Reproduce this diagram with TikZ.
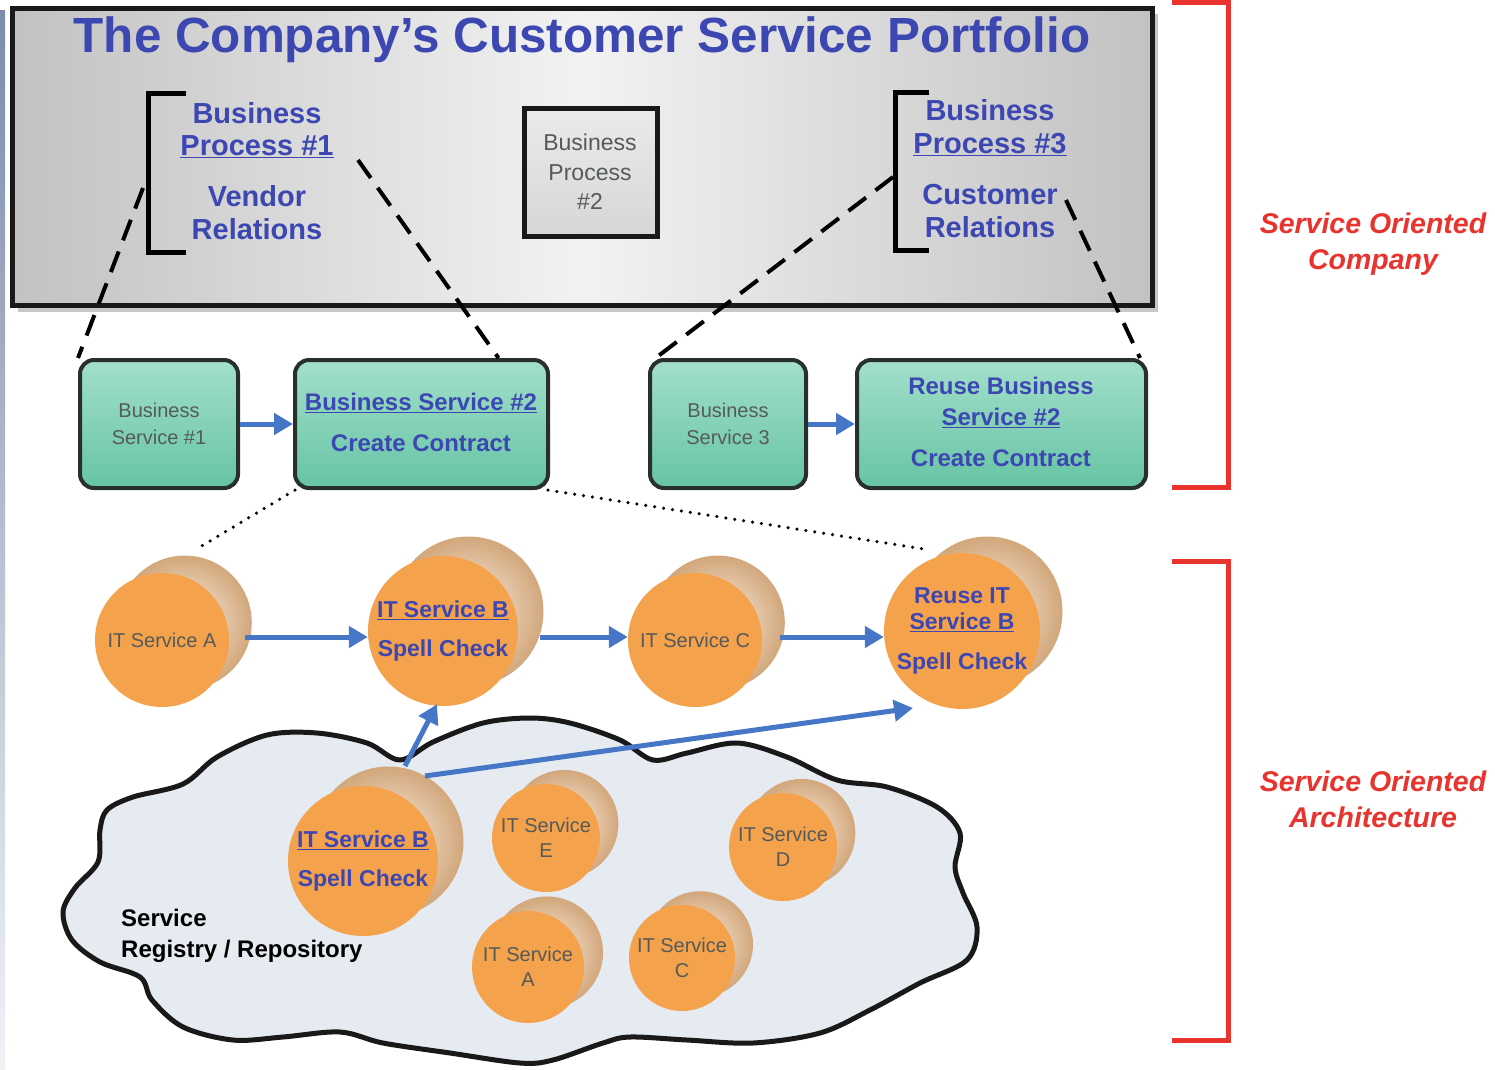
\documentclass[tikz,border=0pt]{standalone}
\usepackage{fontspec}
\setmainfont{Liberation Sans}
\usetikzlibrary{arrows.meta}
\definecolor{txtblue}{HTML}{3D47B2}
\definecolor{arrblue}{HTML}{4677C6}
\definecolor{sored}{HTML}{E8332E}
\definecolor{grytxt}{HTML}{555A5A}
\definecolor{grnlight}{HTML}{A3DFCA}
\definecolor{grndark}{HTML}{66C4A5}
\definecolor{boxedge}{HTML}{28302E}
\definecolor{orng}{HTML}{F5A24C}
\definecolor{cylin}{HTML}{FBF1E6}
\definecolor{cylout}{HTML}{D2A77B}
\definecolor{cloudfill}{HTML}{E6EAF1}
\definecolor{striptop}{HTML}{7D8CAB}
\definecolor{stripbot}{HTML}{F0F2F6}
\newcommand{\uln}[1]{\underline{#1}}
\newcommand{\fsz}[2]{\fontsize{#1}{#2}\selectfont}
\newcommand{\itcyl}[6]{%
  \shade[inner color=cylin, outer color=cylout] (#2+0.34*#4,#3-0.26*#4) circle[radius=#4pt];
  \node[itfront, minimum size={2*#4pt}, #5] (#1) at (#2,#3) {#6};}
\begin{document}
\begin{tikzpicture}[x=1pt,y=-1pt,
  blueb/.style={text=txtblue, font=\bfseries\fsz{29}{33}, align=center, inner sep=0pt},
  greentxt/.style={text=txtblue, font=\bfseries\fsz{24}{31}, align=center, inner sep=0pt},
  graysmall/.style={text=grytxt, font=\fsz{20}{27}, align=center, inner sep=0pt},
  gbox/.style={draw=boxedge, line width=4pt, rounded corners=14pt, top color=grnlight, bottom color=grndark},
  dashconn/.style={draw=black, line width=4pt, dash pattern=on 22pt off 12pt},
  dotconn/.style={draw=black, line width=3.5pt, line cap=round, dash pattern=on 0pt off 9pt},
  barrow/.style={draw=arrblue, line width=5pt, -{Triangle[length=19pt,width=21pt]}},
  itfront/.style={circle, fill=orng, inner sep=0pt, align=center},
  itplain/.style={text=grytxt, font=\fsz{20}{25}},
  itbold/.style={text=txtblue, font=\bfseries\fsz{23}{30}},
  redlbl/.style={text=sored, font=\bfseries\itshape\fsz{28.5}{36}, align=center},
  redbr/.style={draw=sored, line width=5pt}
]
\useasboundingbox (0,0) rectangle (1495,1069);
% left slide strip
\shade[top color=striptop, bottom color=stripbot] (0,10) rectangle (5,1069);
% portfolio box
\fill[black!22] (18,14) rectangle (1158,312);
\path[draw=black!90, line width=5pt, left color=black!24, right color=black!24, middle color=black!5] (12,8) rectangle (1152,305);
\node[text=txtblue, font=\bfseries\fsz{49.4}{52}, inner sep=0pt] (title) at (582,40) {The Company’s Customer Service Portfolio};
% left bracket
\draw[line width=5pt] (186,93) -- (148,93) -- (148,252) -- (186,252);
\node[blueb] (bp1) at (257,130) {Business\\[-1pt]\uln{Process \#1}};
\node[blueb] (vr) at (257,213) {Vendor\\[0pt]Relations};
% business process 2
\path[draw=black!90, line width=5pt, top color=black!8, bottom color=black!16] (524,108) rectangle (657,236);
\node[text=grytxt, font=\fsz{23}{29.5}, align=center, inner sep=0pt] (bp2) at (590,172) {Business\\Process\\\#2};
% right bracket
\draw[line width=5pt] (929,92) -- (895,92) -- (895,250) -- (929,250);
\node[blueb] (bp3) at (990,128) {Business\\[0pt]\uln{Process \#3}};
\node[blueb] (cr) at (990,211) {Customer\\[0pt]Relations};
% business services
\node[gbox, minimum width=158pt, minimum height=128pt] (bs1) at (159,424) {};
\node[graysmall] (bs1t) at (bs1.center) {Business\\Service \#1};
\node[gbox, minimum width=253pt, minimum height=128pt] (bs2) at (421.5,424) {};
\node[greentxt] (bs2t) at (421,422) {\uln{Business Service \#2}\\[10pt]Create Contract};
\node[gbox, minimum width=156pt, minimum height=128pt] (bs3) at (728,424) {};
\node[graysmall] (bs3t) at (bs3.center) {Business\\Service 3};
\node[gbox, minimum width=289pt, minimum height=128pt] (rbs) at (1001.5,424) {};
\node[greentxt] (rbst) at (1001,422) {Reuse Business\\[0pt]\uln{Service \#2}\\[10pt]Create Contract};
% dashed links
\coordinate (d1) at (143,188);
\coordinate (d2) at (358,160);
\coordinate (d3) at (893,177);
\coordinate (d4) at (1066,200);
\draw[dashconn] (d1) -- (bs1.north west);
\draw[dashconn] (d2) -- ([xshift=77pt]bs2.north);
\draw[dashconn] (d3) -- ([xshift=5pt,yshift=-2pt]bs3.north west);
\draw[dashconn] (d4) -- ([xshift=-8pt]rbs.north east);
% arrows between business services
\draw[barrow] (bs1.east) -- (bs2.west);
\draw[barrow] (bs3.east) -- (rbs.west);
% dotted links
\coordinate (e1) at (195,550);
\coordinate (e2) at (930,550);
\draw[dotconn] ([xshift=2pt]bs2.south west) -- (e1);
\draw[dotconn] ([xshift=-2pt]bs2.south east) -- (e2);
% cloud (service registry)
\draw[draw=black!90, line width=5pt, fill=cloudfill, line join=round]
  plot[smooth cycle, tension=0.55] coordinates {
  (100,830) (98,862) (75,888) (63,912) (72,940) (100,962) (140,977) (152,1000)
  (183,1027) (233,1040) (283,1037) (340,1032) (383,1043) (450,1053) (520,1063)
  (553,1060) (603,1043) (630,1037) (687,1040) (753,1043) (820,1033) (870,1010)
  (920,983) (967,960) (977,927) (963,893) (955,867) (960,833) (937,807) (887,787)
  (837,780) (787,757) (737,743) (687,753) (653,760) (620,740) (570,723) (530,718)
  (483,723) (433,742) (400,760) (367,743) (317,733) (267,735) (217,757) (183,784)
  (133,797) (107,810)};
\node[anchor=west, align=left, font=\bfseries\fsz{24}{31}, inner sep=0pt] (regtxt) at (121,936) {Service\\Registry / Repository};
% IT services (top row)
\itcyl{itA}{162}{640}{67}{itplain}{IT Service A}
\itcyl{itB}{443}{631}{75}{itbold}{\uln{IT Service B}\\[9pt]Spell Check}
\itcyl{itC}{695}{640}{67}{itplain}{IT Service C}
\itcyl{itR}{962}{631}{75}{itbold}{Reuse IT\\[-4pt]\uln{Service B}\\[10pt]Spell Check}
% IT services in registry
\itcyl{rB}{363}{861}{75}{itbold}{\uln{IT Service B}\\[9pt]Spell Check}
\itcyl{rE}{546}{838}{54}{itplain}{IT Service\\E}
\itcyl{rD}{783}{847}{54}{itplain}{IT Service\\D}
\itcyl{rA}{528}{967}{56}{itplain}{IT Service\\A}
\itcyl{rC}{682}{958}{53}{itplain}{IT Service\\C}
% arrows between IT services
\draw[barrow] ([xshift=16pt,yshift=3pt]itA.east) -- ([yshift=-6pt]itB.west);
\draw[barrow] ([xshift=22pt,yshift=-6pt]itB.east) -- ([yshift=3pt]itC.west);
\draw[barrow] ([xshift=18pt,yshift=3pt]itC.east) -- ([yshift=-6pt]itR.west);
\coordinate (f1) at (405,766);
\coordinate (f2) at (425,776);
\coordinate (g2) at (913,708);
\draw[barrow] (f1) -- ([xshift=-6pt,yshift=2pt]itB.south);
\draw[barrow] (f2) -- (g2);
% red brackets
\draw[redbr] (1172,2) -- (1228,2) -- (1228,487) -- (1172,487);
\draw[redbr] (1172,561) -- (1228,561) -- (1228,1040) -- (1172,1040);
\node[redlbl] (soc) at (1373,244) {Service Oriented\\Company};
\node[redlbl] (soa) at (1373,799) {Service Oriented\\Architecture};
\end{tikzpicture}
\end{document}
